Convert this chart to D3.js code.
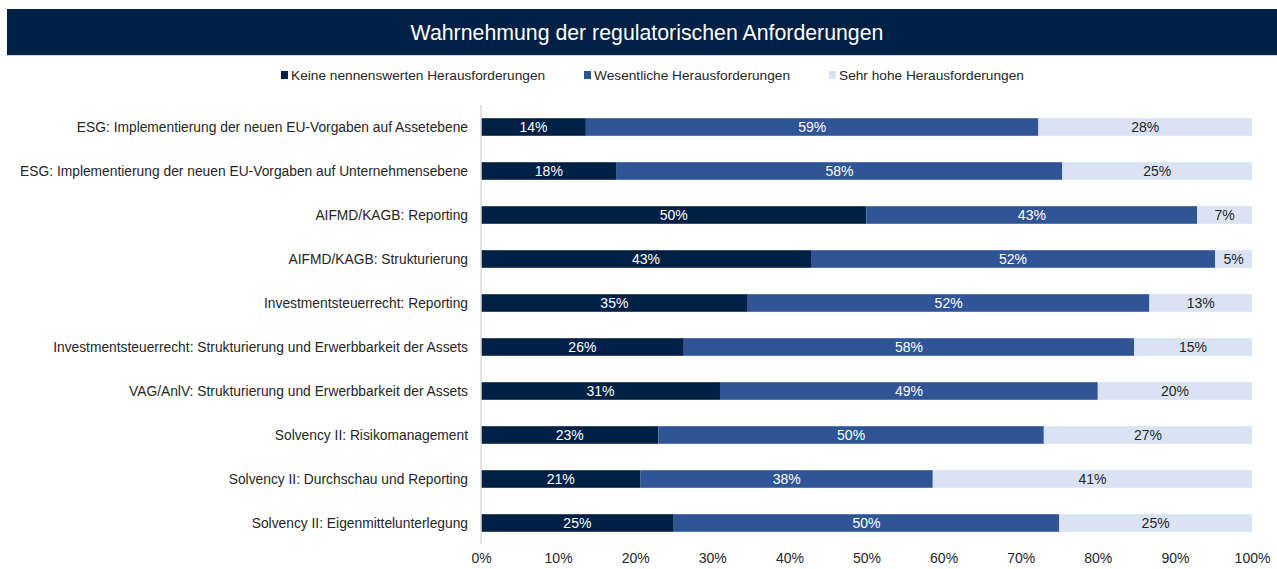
<!DOCTYPE html>
<html>
<head>
<meta charset="utf-8">
<script src="https://cdn.jsdelivr.net/npm/d3@7"></script>
<style>
  body { margin: 0; background: #fff; }
  text { font-family: "Liberation Sans", Arial, sans-serif; }
</style>
</head>
<body>
<script>
const width = 1277;
const height = 569;

// data (bars are drawn from unrounded values)
const categories = [
  "ESG: Implementierung der neuen EU-Vorgaben auf Assetebene",
  "ESG: Implementierung der neuen EU-Vorgaben auf Unternehmensebene",
  "AIFMD/KAGB: Reporting",
  "AIFMD/KAGB: Strukturierung",
  "Investmentsteuerrecht: Reporting",
  "Investmentsteuerrecht: Strukturierung und Erwerbbarkeit der Assets",
  "VAG/AnlV: Strukturierung und Erwerbbarkeit der Assets",
  "Solvency II: Risikomanagement",
  "Solvency II: Durchschau und Reporting",
  "Solvency II: Eigenmittelunterlegung"
];
const seriesNames = ["Keine nennenswerten Herausforderungen", "Wesentliche Herausforderungen", "Sehr hohe Herausforderungen"];
const keine     = [13.6, 17.6, 50.0, 42.8, 34.6, 26.3, 31.0, 23.0, 20.7, 25.0];
const wesentlich = [58.7, 57.8, 42.9, 52.4, 52.1, 58.4, 49.0, 50.0, 37.9, 50.0];
const sehrHoch  = [27.7, 24.6, 7.1, 4.8, 13.3, 15.3, 20.0, 27.0, 41.4, 25.0];
const xTicks = [0, 10, 20, 30, 40, 50, 60, 70, 80, 90, 100];

const colors = ["#002046", "#2f5597", "#dae3f3"];
const labelColors = ["#ffffff", "#ffffff", "#262626"];

const svg = d3.select("body").append("svg")
  .attr("width", width)
  .attr("height", height);

// title band
svg.append("rect")
  .attr("x", 7).attr("y", 11).attr("width", width - 7).attr("height", 45)
  .attr("fill", "#d0d4da");
svg.append("rect")
  .attr("x", 7).attr("y", 9).attr("width", width - 7).attr("height", 46)
  .attr("fill", "#002046");
svg.append("text")
  .attr("x", 647).attr("y", 33)
  .attr("text-anchor", "middle")
  .attr("dominant-baseline", "central")
  .attr("fill", "#fff")
  .attr("font-size", 21.3)
  .text("Wahrnehmung der regulatorischen Anforderungen");

// legend
const legendX = [281, 584, 829];
const legend = svg.selectAll("g.legend")
  .data(seriesNames)
  .enter().append("g")
  .attr("class", "legend")
  .attr("transform", (d, i) => "translate(" + legendX[i] + ",75)");
legend.append("rect")
  .attr("x", 0).attr("y", -4).attr("width", 7).attr("height", 8)
  .attr("fill", (d, i) => colors[i]);
legend.append("text")
  .attr("x", 10).attr("y", 0)
  .attr("dominant-baseline", "central")
  .attr("font-size", 13.7)
  .attr("fill", "#262626")
  .text(d => d);

// scales
const x = d3.scaleLinear().domain([0, 100]).range([481, 1252]);
const y = d3.scaleBand().domain(categories).range([105, 545]).paddingInner(0.6).paddingOuter(0.3);

const rows = categories.map((c, i) => ({ cat: c, vals: [keine[i], wesentlich[i], sehrHoch[i]] }));
const stackData = rows.map(r => {
  let acc = 0;
  return r.vals.map((v, k) => { const s = { cat: r.cat, k: k, v: v, x0: acc, x1: acc + v }; acc += v; return s; });
});

const row = svg.selectAll("g.row")
  .data(stackData)
  .enter().append("g")
  .attr("class", "row");

row.selectAll("rect")
  .data(d => d)
  .enter().append("rect")
  .attr("x", d => x(d.x0))
  .attr("y", d => y(d.cat))
  .attr("width", d => x(d.x1) - x(d.x0))
  .attr("height", y.bandwidth())
  .attr("fill", d => colors[d.k]);

row.selectAll("text")
  .data(d => d)
  .enter().append("text")
  .attr("x", d => (x(d.x0) + x(d.x1)) / 2)
  .attr("y", d => y(d.cat) + y.bandwidth() / 2)
  .attr("text-anchor", "middle")
  .attr("dominant-baseline", "central")
  .attr("font-size", 14)
  .attr("fill", d => labelColors[d.k])
  .text(d => Math.round(d.v) + "%");

// category labels
svg.selectAll("text.cat")
  .data(categories)
  .enter().append("text")
  .attr("class", "cat")
  .attr("x", 468)
  .attr("y", d => y(d) + y.bandwidth() / 2)
  .attr("text-anchor", "end")
  .attr("dominant-baseline", "central")
  .attr("font-size", 13.8)
  .attr("fill", "#262626")
  .text(d => d);

// y axis line
svg.append("line")
  .attr("x1", x(0)).attr("x2", x(0))
  .attr("y1", 105).attr("y2", 544)
  .attr("stroke", "#d9d9d9")
  .attr("stroke-width", 1.5);

// x axis
const xAxis = svg.append("g")
  .attr("transform", "translate(0,544)")
  .call(d3.axisBottom(x).tickValues(xTicks).tickSize(0).tickPadding(9).tickFormat(d => d + "%"));
xAxis.select(".domain").remove();
xAxis.selectAll("text")
  .attr("font-size", 14)
  .attr("font-family", "Liberation Sans, Arial, sans-serif")
  .attr("fill", "#262626");
</script>
</body>
</html>
